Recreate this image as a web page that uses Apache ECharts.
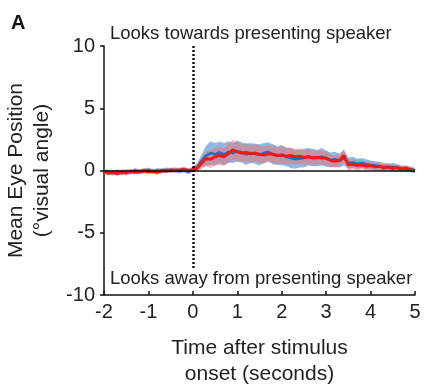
<!DOCTYPE html>
<html><head><meta charset="utf-8">
<script src="https://cdn.jsdelivr.net/npm/echarts@6/dist/echarts.min.js"></script>
<style>html,body{margin:0;padding:0;background:#fff}#c{width:424px;height:385px}</style>
</head><body><div id="c"></div>
<script>
// time samples (s)
const times = [-2.0,-1.9,-1.8,-1.7,-1.6,-1.5,-1.4,-1.3,-1.2,-1.1,-1.0,-0.9,-0.8,-0.7,-0.6,-0.5,-0.4,-0.3,-0.2,-0.1,
0.0,0.1,0.2,0.3,0.4,0.5,0.6,0.7,0.8,0.9,1.0,1.1,1.2,1.3,1.4,1.5,1.6,1.7,1.8,1.9,2.0,2.1,2.2,2.3,2.4,2.5,2.6,2.7,2.8,2.9,
3.0,3.1,3.2,3.3,3.4,3.5,3.6,3.7,3.8,3.9,4.0,4.1,4.2,4.3,4.4,4.5,4.6,4.7,4.8,4.9,5.0];
const blueMean = [-0.05,-0.15,-0.2,-0.1,-0.2,-0.1,-0.15,0.0,-0.1,-0.05,0.05,-0.1,0.0,-0.05,0.05,0.0,0.05,-0.05,0.05,-0.1,
0.1,0.3,0.8,1.2,1.4,1.3,1.45,1.3,1.5,1.4,1.55,1.45,1.3,1.4,1.35,1.25,1.4,1.5,1.3,1.2,1.25,1.1,1.0,0.9,0.95,1.0,1.1,1.05,1.0,1.1,
0.95,0.85,0.9,0.8,1.0,0.6,0.65,0.55,0.6,0.5,0.45,0.4,0.35,0.3,0.25,0.3,0.2,0.15,0.1,0.1,0.0];
const blueSem = [0.2,0.2,0.2,0.2,0.2,0.2,0.2,0.2,0.2,0.2,0.2,0.2,0.2,0.2,0.2,0.2,0.2,0.2,0.2,0.2,
0.2,0.3,0.5,0.8,0.95,0.9,0.85,0.9,0.85,0.8,0.85,0.8,0.85,0.8,0.8,0.85,0.8,0.75,0.8,0.75,0.8,0.75,0.8,0.75,0.7,0.75,0.7,0.7,0.65,0.7,
0.65,0.6,0.6,0.55,0.6,0.45,0.45,0.4,0.4,0.4,0.35,0.35,0.35,0.3,0.3,0.3,0.3,0.25,0.25,0.25,0.2];
const redMean = [-0.1,-0.2,-0.15,-0.25,-0.1,-0.2,-0.05,-0.15,-0.1,0.0,-0.1,-0.05,-0.15,0.0,-0.05,0.05,0.0,0.05,0.1,0.0,
0.05,0.2,0.6,0.95,0.9,1.1,1.2,1.1,1.35,1.65,1.5,1.4,1.45,1.35,1.4,1.3,1.25,1.35,1.3,1.2,1.25,1.15,1.2,1.1,1.15,1.05,1.1,1.0,1.05,1.0,
1.0,0.8,0.75,0.8,1.2,0.45,0.5,0.4,0.45,0.35,0.4,0.3,0.35,0.2,0.3,0.15,0.25,0.1,0.2,0.05,0.0];
const redSem = [0.2,0.2,0.2,0.2,0.2,0.2,0.2,0.2,0.2,0.2,0.2,0.2,0.2,0.2,0.2,0.2,0.2,0.2,0.2,0.2,
0.2,0.3,0.45,0.6,0.7,0.7,0.75,0.7,0.75,0.8,0.75,0.7,0.75,0.7,0.7,0.7,0.7,0.65,0.7,0.65,0.7,0.65,0.65,0.6,0.65,0.6,0.6,0.6,0.55,0.55,
0.55,0.5,0.5,0.5,0.55,0.45,0.4,0.4,0.35,0.35,0.35,0.3,0.3,0.3,0.3,0.25,0.25,0.25,0.25,0.2,0.2];
const xTicks = [-2,-1,0,1,2,3,4,5];
const yTicks = [-10,-5,0,5,10];
const topText = 'Looks towards presenting speaker';
const bottomText = 'Looks away from presenting speaker';

const pair = (arr) => times.map((t, i) => [t, arr[i]]);
const band = (m, s) => times.map((t, i) => [t, m[i] - s[i], m[i] + s[i]]);

function bandSeries(m, s, fill) {
  const data = band(m, s);
  return {
    type: 'custom', silent: true, data: data,
    encode: {x: 0, y: [1, 2]},
    renderItem: function (params, api) {
      if (params.dataIndex !== 0) return null;
      const pts = [];
      for (let i = 0; i < data.length; i++) pts.push(api.coord([data[i][0], data[i][2]]));
      for (let i = data.length - 1; i >= 0; i--) pts.push(api.coord([data[i][0], data[i][1]]));
      return {type: 'polygon', shape: {points: pts}, style: {fill: fill, stroke: null}};
    }
  };
}

const chart = echarts.init(document.getElementById('c'), null, {renderer: 'canvas'});
const FONT = 'Liberation Sans, Arial, sans-serif';
chart.setOption({
  animation: false,
  grid: {left: 104, right: 9, top: 46, bottom: 90, containLabel: false, outerBoundsMode: 'none'},
  xAxis: {
    type: 'value', min: -2, max: 5, interval: 1,
    axisLine: {onZero: false, lineStyle: {color: '#111', width: 1.5}},
    axisTick: {inside: true, length: 4, lineStyle: {color: '#111', width: 1.5}},
    axisLabel: {color: '#222', fontSize: 20, fontFamily: FONT, margin: 7,
      formatter: v => xTicks.includes(v) ? String(v) : ''},
    splitLine: {show: false},
    name: 'Time after stimulus\nonset (seconds)', nameLocation: 'middle', nameGap: 40,
    nameTextStyle: {color: '#222', fontSize: 21, fontFamily: FONT, lineHeight: 26}
  },
  yAxis: {
    type: 'value', min: -10, max: 10, interval: 5,
    axisLine: {show: true, onZero: false, lineStyle: {color: '#111', width: 1.5}},
    axisTick: {show: true, length: 4, lineStyle: {color: '#111', width: 1.5}},
    axisLabel: {color: '#222', fontSize: 20, fontFamily: FONT, margin: 9,
      formatter: v => yTicks.includes(v) ? String(v) : ''},
    splitLine: {show: false},
    name: 'Mean Eye Position\n(°visual angle)', nameLocation: 'middle', nameGap: 36,
    nameTextStyle: {color: '#222', fontSize: 21, fontFamily: FONT, lineHeight: 26}
  },
  graphic: [
    {type: 'text', left: 11, top: 13, style: {text: 'A', font: 'bold 20px ' + FONT, fill: '#111'}},
    {type: 'text', left: 110, top: 24, style: {text: topText, font: '18.5px ' + FONT, fill: '#222'}},
    {type: 'text', left: 110, top: 269, style: {text: bottomText, font: '18.5px ' + FONT, fill: '#222'}}
  ],
  series: [
    {type: 'line', data: [], silent: true,
      markLine: {symbol: 'none', silent: true, label: {show: false},
        data: [
          [{coord: [-2, 0], lineStyle: {color: '#111', width: 1.5, type: 'solid'}}, {coord: [5, 0]}],
          [{coord: [0, 10], lineStyle: {color: '#111', width: 2.5, type: [2, 2]}}, {coord: [0, -8]}]
        ]}},
    bandSeries(blueMean, blueSem, 'rgba(70,140,210,0.6)'),
    bandSeries(redMean, redSem, 'rgba(238,110,110,0.5)'),
    {type: 'line', data: pair(blueMean), symbol: 'none', lineStyle: {color: '#1f6ec2', width: 2.5}},
    {type: 'line', data: pair(redMean), symbol: 'none', lineStyle: {color: '#f51616', width: 3}}
  ]
});
</script></body></html>
